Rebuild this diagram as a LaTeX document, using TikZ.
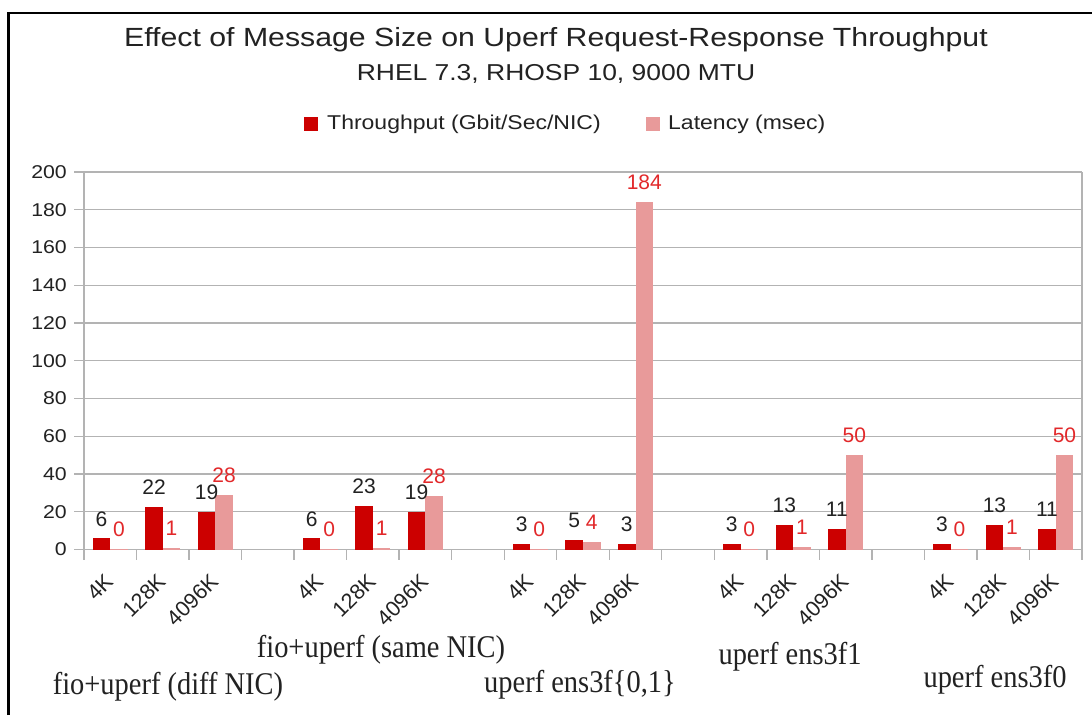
\documentclass[tikz,border=0pt]{standalone}
\usepackage{fontspec}
\setmainfont{Liberation Sans}[FakeStretch=1.15]
\newfontfamily\plainsans{Liberation Sans}
\newfontfamily\serifgrp{Liberation Serif}[FakeStretch=0.9]
\definecolor{thr}{HTML}{CC0000}
\definecolor{lat}{HTML}{E89A9A}
\definecolor{latlbl}{HTML}{E2282A}
\definecolor{gridc}{HTML}{B3B3B3}
\definecolor{txt}{HTML}{222222}
\tikzset{
  gridline/.style={draw=gridc, line width=1.4pt},
  axislbl/.style={anchor=east, inner sep=0pt, text=txt, font=\fontsize{18.5}{20}\selectfont},
  tlbl/.style={inner sep=0pt, text=txt, font=\plainsans\fontsize{21}{23}\selectfont},
  llbl/.style={inner sep=0pt, text=latlbl, font=\plainsans\fontsize{21}{23}\selectfont},
  xlbl/.style={rotate=45, anchor=east, inner sep=0pt, text=txt, font=\plainsans\fontsize{21.5}{23}\selectfont},
  grplbl/.style={inner sep=0pt, text=txt, font=\serifgrp\fontsize{31.6}{33}\selectfont},
  legtext/.style={anchor=west, inner sep=0pt, text=txt, font=\fontsize{20}{22}\selectfont},
}
\begin{document}
\begin{tikzpicture}[x=1pt,y=-1pt]
\useasboundingbox (0,0) rectangle (1092,715);
\fill[white] (0,0) rectangle (1092,715);
% outer border (cropped)
\draw[line width=2.6pt] (8.5,715) -- (8.5,13) -- (1092,13);
% titles
\node[inner sep=0pt, text=txt, font=\fontsize{26.3}{28}\selectfont] (title) at (556,40) {Effect of Message Size on Uperf Request-Response Throughput};
\node[inner sep=0pt, text=txt, font=\fontsize{23}{25}\selectfont] (subtitle) at (556,74) {RHEL 7.3, RHOSP 10, 9000 MTU};
% legend
\fill[thr] (304,117) rectangle (318,131);
\node[legtext] (legT) at (327,124) {Throughput (Gbit/Sec/NIC)};
\fill[lat] (646,117) rectangle (660,131);
\node[legtext] (legL) at (668,124) {Latency (msec)};
% grid and y labels
\foreach \v in {0,20,...,200}{
  \pgfmathsetmacro\yy{549.5-\v*1.8875}
  \draw[gridline] (74,\yy) -- (1082,\yy);
  \node[axislbl] (y\v) at (67,\yy) {\v};
}
\draw[gridline] (84,172) -- (84,560);
\draw[gridline] (1082,172) -- (1082,560);
\foreach \k in {1,...,18}{
  \pgfmathsetmacro\xx{84+\k*52.526}
  \draw[gridline] (\xx,549.5) -- (\xx,560);
}
% bars and data labels
\foreach \i/\t/\l/\tl/\ll in {0/5.9/0.3/6/0, 1/22.7/0.9/22/1, 2/20/28.8/19/28,
    4/5.9/0.3/6/0, 5/23.2/0.9/23/1, 6/20/28.4/19/28,
    8/3/0.3/3/0, 9/5/4/5/4, 10/3/184/3/184,
    12/3/0.3/3/0, 13/13/1.2/13/1, 14/11/50/11/50,
    16/3/0.3/3/0, 17/13/1.2/13/1, 18/11/50/11/50}{
  \pgfmathsetmacro\xl{84+\i*52.526}
  \pgfmathsetmacro\xa{\xl+8.754}
  \pgfmathsetmacro\xb{\xl+26.263}
  \pgfmathsetmacro\xc{\xl+43.772}
  \pgfmathsetmacro\yt{549.5-\t*1.8875}
  \pgfmathsetmacro\yl{549.5-\l*1.8875}
  \fill[thr] (\xa,549.5) rectangle (\xb,\yt);
  \fill[lat] (\xb,549.5) rectangle (\xc,\yl);
  \node[tlbl] (tl\i) at ({(\xa+\xb)/2},\yt-19.5) {\tl};
  \node[llbl] (ll\i) at ({(\xb+\xc)/2},\yl-19.5) {\ll};
}
% x tick labels
\foreach \i/\s in {0/4K,1/128K,2/4096K,4/4K,5/128K,6/4096K,8/4K,9/128K,10/4096K,
    12/4K,13/128K,14/4096K,16/4K,17/128K,18/4096K}{
  \node[xlbl] (xl\i) at ({84+(\i+0.5)*52.526-1},578) {\s};
}
% group labels
\node[grplbl] (g1) at (168,687) {fio+uperf (diff NIC)};
\node[grplbl] (g2) at (381,650) {fio+uperf (same NIC)};
\node[grplbl] (g3) at (580,685) {uperf ens3f\{0,1\}};
\node[grplbl] (g4) at (790,657) {uperf ens3f1};
\node[grplbl] (g5) at (995,680) {uperf ens3f0};
\end{tikzpicture}
\end{document}
